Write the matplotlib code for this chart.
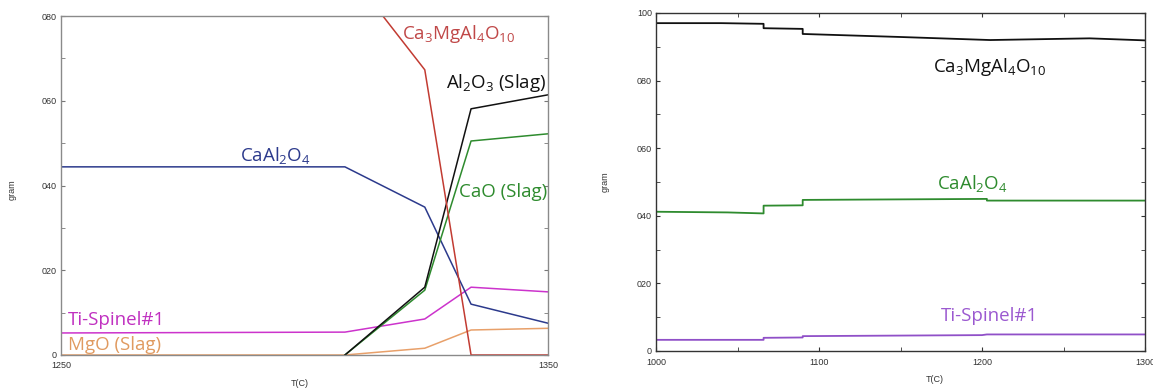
import matplotlib.pyplot as plt

plt.rcParams['font.family'] = ['Open Sans', 'DejaVu Sans']
plt.rcParams['mathtext.fontset'] = 'custom'
plt.rcParams['mathtext.rm'] = 'Open Sans'
plt.rcParams['mathtext.it'] = 'Open Sans'

# left panel: 1250-1350 C
t_left = [1250, 1308.3, 1324.7, 1334.2, 1350]
caal2o4_left = [44.4, 44.4, 34.9, 12.0, 7.5]
ca3mgal4o10_left = [91.5, 91.5, 67.3, 0.0, 0.0]
spinel_left = [5.2, 5.4, 8.5, 16.0, 14.9]
mgo_slag = [0.0, 0.0, 1.6, 5.9, 6.3]
t_slag = [1308.3, 1324.7, 1334.2, 1350]
al2o3_slag = [0.0, 16.0, 58.1, 61.4]
cao_slag = [0.0, 15.3, 50.5, 52.2]

# right panel: 1000-1300 C (stepped curves)
t_ca3 = [1000, 1040, 1066, 1066, 1090, 1090, 1150, 1205, 1266, 1300]
ca3mgal4o10_right = [97.0, 97.0, 96.8, 95.5, 95.3, 93.8, 92.9, 92.0, 92.5, 91.9]
t_caal = [1000, 1044, 1066, 1066, 1090, 1090, 1203, 1203, 1300]
caal2o4_right = [41.2, 41.0, 40.7, 43.0, 43.1, 44.7, 45.0, 44.5, 44.5]
t_sp = [1000, 1066, 1066, 1090, 1090, 1200, 1203, 1300]
spinel_right = [3.3, 3.3, 3.9, 4.0, 4.4, 4.7, 4.9, 4.9]

yticks_left = [0, 20, 40, 60, 80]
ylabels_left = ['0', '020', '040', '060', '080']
yticks_right = [0, 20, 40, 60, 80, 100]
ylabels_right = ['0', '020', '040', '060', '080', '100']
xticks_left = [1250, 1350]
xticks_right = [1000, 1100, 1200, 1300]

W, H = 1153, 392
fig = plt.figure(figsize=(W / 100, H / 100), dpi=100)
ax1 = fig.add_axes([61 / W, 1 - 355 / H, 487 / W, 339 / H])
ax2 = fig.add_axes([656 / W, 1 - 351 / H, 489 / W, 338 / H])

tick_font = dict(family='Liberation Sans', size=6.5, color='#333333')

# ---- left panel ----
lw = 1.1
ax1.plot(t_left, mgo_slag, color='#e8a06a', lw=lw)
ax1.plot(t_left, spinel_left, color='#cc33cc', lw=lw)
ax1.plot(t_left, caal2o4_left, color='#2c3a8c', lw=lw)
ax1.plot(t_slag, cao_slag, color='#2e8b2e', lw=lw)
ax1.plot(t_slag, al2o3_slag, color='#111111', lw=lw)
ax1.plot(t_left, ca3mgal4o10_left, color='#c23b32', lw=lw)
ax1.set_xlim(1250, 1350)
ax1.set_ylim(0, 80)
ax1.set_yticks(yticks_left, ylabels_left, **tick_font)
ax1.set_yticks(range(10, 80, 20), minor=True)
ax1.set_xticks(xticks_left, [str(t) for t in xticks_left], **tick_font)
ax1.tick_params(axis='y', which='both', direction='in', length=3, right=True,
                color='#777777', pad=3)
ax1.tick_params(axis='x', length=0, pad=4)
for s in ax1.spines.values():
    s.set_color('#8a8a8a')
    s.set_linewidth(1.0)

fs = 13.5
ax1.text(1294.1, 45.8, r'CaAl$_2$O$_4$', color='#2c3a8c', fontsize=fs, ha='center', va='baseline')
ax1.text(1331.7, 74.6, r'Ca$_3$MgAl$_4$O$_{10}$', color='#c04848', fontsize=fs, ha='center', va='baseline')
ax1.text(1349.6, 63.0, r'Al$_2$O$_3$ (Slag)', color='#111111', fontsize=fs, ha='right', va='baseline')
ax1.text(1349.8, 37.3, 'CaO (Slag)', color='#2e8b2e', fontsize=fs, ha='right', va='baseline')
ax1.text(1251.4, 7.1, 'Ti-Spinel#1', color='#c030c0', fontsize=fs, ha='left', va='baseline')
ax1.text(1251.4, 1.2, 'MgO (Slag)', color='#e09a60', fontsize=fs, ha='left', va='baseline')

# ---- right panel ----
ax2.plot(t_sp, spinel_right, color='#9050c8', lw=1.3)
ax2.plot(t_caal, caal2o4_right, color='#2e8b2e', lw=1.3)
ax2.plot(t_ca3, ca3mgal4o10_right, color='#111111', lw=1.3)
ax2.set_xlim(1000, 1300)
ax2.set_ylim(0, 100)
ax2.set_yticks(yticks_right, ylabels_right, **tick_font)
ax2.set_yticks(range(10, 100, 20), minor=True)
ax2.set_xticks(xticks_right, [str(t) for t in xticks_right], **tick_font)
ax2.set_xticks(range(1050, 1300, 100), minor=True)
ax2.tick_params(axis='both', which='both', direction='in', length=3,
                right=True, top=True, color='#333333', pad=3)
ax2.tick_params(axis='x', pad=5)
for s in ax2.spines.values():
    s.set_color('#333333')
    s.set_linewidth(1.0)

ax2.text(1204.9, 82.5, r'Ca$_3$MgAl$_4$O$_{10}$', color='#111111', fontsize=fs, ha='center', va='baseline')
ax2.text(1193.9, 47.9, r'CaAl$_2$O$_4$', color='#2e8b2e', fontsize=fs, ha='center', va='baseline')
ax2.text(1204.9, 8.9, 'Ti-Spinel#1', color='#9b59d0', fontsize=fs, ha='center', va='baseline')

# axis titles
lab_font = dict(family='Liberation Sans', size=6.5, color='#333333')
fig.text(12 / W, 1 - 190 / H, 'gram', rotation=90, ha='center', va='center', **lab_font)
fig.text(300 / W, 1 - 383 / H, 'T(C)', ha='center', va='center', **lab_font)
fig.text(605 / W, 1 - 182 / H, 'gram', rotation=90, ha='center', va='center', **lab_font)
fig.text(935 / W, 1 - 380 / H, 'T(C)', ha='center', va='center', **lab_font)

fig.savefig('out.png', dpi=100)
